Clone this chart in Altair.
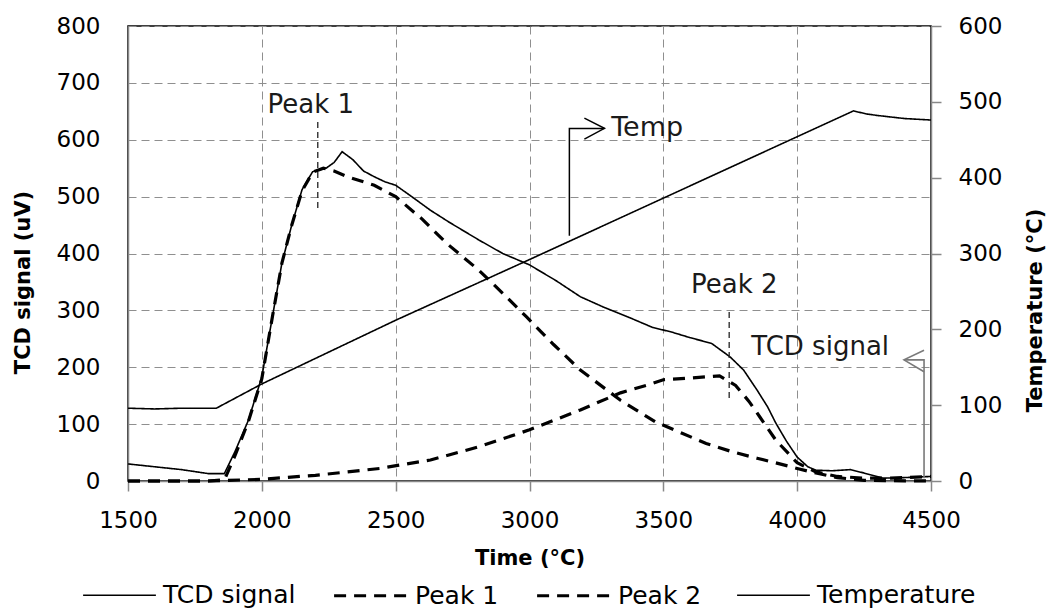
import altair as alt
import pandas as pd

FONT = "DejaVu Sans"

# ---- series data ----
time_tcd = [1500, 1600, 1700, 1800, 1860, 1900, 1950, 2000, 2040, 2075, 2110, 2150, 2190, 2240,
            2270, 2300, 2340, 2380, 2420, 2460, 2500, 2560, 2630, 2700, 2810, 2900, 3000, 3100,
            3190, 3280, 3370, 3460, 3530, 3600, 3680, 3750, 3800, 3850, 3890, 3920, 3960, 4000,
            4040, 4070, 4130, 4200, 4250, 4320, 4400, 4500]
tcd = [30, 25, 20, 13, 13, 52, 107, 183, 290, 383, 447, 512, 544, 550,
       560, 579, 565, 545, 535, 526, 520, 500, 476, 455, 424, 400, 380, 352,
       324, 305, 288, 270, 262, 252, 242, 218, 195, 160, 130, 102, 70, 42,
       25, 19, 18, 20, 14, 5, 6, 8]

time_p1 = [1500, 1800, 1860, 1900, 1950, 2000, 2040, 2075, 2110, 2150, 2190, 2230, 2270, 2320,
           2420, 2500, 2600, 2690, 2810, 2900, 2990, 3090, 3190, 3340, 3470, 3570, 3660, 3760,
           3850, 3920, 4000, 4070, 4150, 4250, 4500]
p1 = [0, 0, 2, 45, 105, 180, 290, 383, 447, 510, 543, 550, 545, 535,
      520, 500, 460, 418, 371, 330, 288, 240, 195, 142, 104, 84, 66, 51,
      40, 32, 22, 14, 6, 1, 0]

time_p2 = [1500, 1800, 2000, 2200, 2440, 2630, 2810, 3000, 3190, 3340, 3450, 3500, 3600, 3710,
           3770, 3820, 3860, 3920, 4000, 4070, 4150, 4250, 4350, 4500]
p2 = [0, 0, 3, 10, 22, 37, 60, 90, 125, 155, 170, 178, 181, 185,
      168, 140, 113, 72, 32, 16, 8, 5, 5, 8]

time_temp = [1500, 1600, 1700, 1830, 2000, 2500, 3000, 3500, 4000, 4210, 4260, 4300, 4400, 4500]
temp = [96, 95, 96, 96, 128, 212, 292, 373, 454, 488, 484, 482, 478, 476]

series_order = ["TCD signal", "Peak 1", "Peak 2", "Temperature"]
x_ticks = [1500, 2000, 2500, 3000, 3500, 4000, 4500]
left_ticks = [0, 100, 200, 300, 400, 500, 600, 700, 800]
right_ticks = [0, 100, 200, 300, 400, 500, 600]

# ---- annotation data (in data units) ----
ann_text = ["Peak 1", "Peak 2", "TCD signal"]
ann_text_t = [2183, 3765, 4086]
ann_text_v = [661, 345, 236]
temp_label_t, temp_label_v = [3305], [620]

# dashed peak markers
marker_t = [2209, 2209, 3746, 3746]
marker_v = [631, 476, 297, 146]
marker_g = ["a", "a", "b", "b"]

# Temp arrow (shaft + open head)
tarrow_t = [3149, 3149, 3280, 3205, 3280, 3205]
tarrow_v = [431, 620, 620, 638, 620, 601]
tarrow_g = ["s", "s", "s", "h", "h", "h"]

# TCD signal arrow (shaft + open head)
carrow_t = [4474, 4474, 4399, 4474, 4399, 4474]
carrow_v = [5, 213, 213, 230, 213, 192]
carrow_g = ["s", "s", "s", "h", "h", "h"]


def frame(ts, vs, name):
    return pd.DataFrame({"t": ts, "v": vs, "series": name})


left_df = pd.concat([frame(time_tcd, tcd, "TCD signal"),
                     frame(time_p1, p1, "Peak 1"),
                     frame(time_p2, p2, "Peak 2")], ignore_index=True)
temp_df = frame(time_temp, temp, "Temperature")

dash_scale = alt.Scale(domain=series_order, range=[[1, 0], [12, 8], [12, 8], [1, 0]])
width_scale = alt.Scale(type="ordinal", domain=series_order, range=[1.6, 3.2, 3.2, 1.6])

legend = alt.Legend(title=None, orient="none", legendX=-46, legendY=531,
                    direction="horizontal", symbolType="stroke", symbolSize=5300,
                    symbolStrokeColor="black", labelFont=FONT, labelFontSize=25,
                    labelColor="black", labelOffset=6, columnPadding=31)

x_scale = alt.Scale(domain=[1500, 4500], nice=False, zero=False)
x_axis = alt.Axis(values=x_ticks, format="d", title="Time (°C)", grid=True, labelFlush=False,
                  tickSize=10, labelPadding=18, titleY=77, titleBaseline="middle")
x_enc = alt.X("t:Q", scale=x_scale, axis=x_axis)

y_scale_left = alt.Scale(domain=[0, 800], nice=False)
y_axis_left = alt.Axis(values=left_ticks, format="d", title="TCD signal (uV)", grid=True,
                       ticks=False, tickSize=0, labelPadding=28, labelFlush=False,
                       titleX=-105, titleY=256, titleBaseline="middle")
y_enc = alt.Y("v:Q", scale=y_scale_left, axis=y_axis_left)

main = alt.Chart(left_df).mark_line(color="black").encode(
    x=x_enc,
    y=y_enc,
    strokeDash=alt.StrokeDash("series:N", scale=dash_scale, legend=legend),
    strokeWidth=alt.StrokeWidth("series:N", scale=width_scale, legend=legend),
    detail="series:N",
)

markers = alt.Chart(pd.DataFrame({"t": marker_t, "v": marker_v, "g": marker_g})).mark_line(
    color="#222222", strokeWidth=1.3, strokeDash=[6, 4]).encode(
    x=x_enc, y=y_enc, detail="g:N")

tarrow = alt.Chart(pd.DataFrame({"t": tarrow_t, "v": tarrow_v, "g": tarrow_g,
                                 "o": list(range(len(tarrow_t)))})).mark_line(
    color="black", strokeWidth=1.5).encode(
    x=x_enc, y=y_enc, detail="g:N", order="o:Q")

carrow = alt.Chart(pd.DataFrame({"t": carrow_t, "v": carrow_v, "g": carrow_g,
                                 "o": list(range(len(carrow_t)))})).mark_line(
    color="#7a7a7a", strokeWidth=1.6).encode(
    x=x_enc, y=y_enc, detail="g:N", order="o:Q")

labels = alt.Chart(pd.DataFrame({"t": ann_text_t, "v": ann_text_v, "txt": ann_text})).mark_text(
    font=FONT, fontSize=26, color="#1a1a1a", align="center", baseline="middle").encode(
    x=x_enc, y=y_enc, text="txt:N")

temp_label = alt.Chart(pd.DataFrame({"t": temp_label_t, "v": temp_label_v, "txt": ["Temp"]})).mark_text(
    font=FONT, fontSize=27, color="#1a1a1a", align="left", baseline="middle").encode(
    x=x_enc, y=y_enc, text="txt:N")

left_layer = alt.layer(main, markers, tarrow, carrow, labels, temp_label)

right = alt.Chart(temp_df).mark_line(color="black").encode(
    x=x_enc,
    y=alt.Y("v:Q", scale=alt.Scale(domain=[0, 600], nice=False),
            axis=alt.Axis(values=right_ticks, format="d", title="Temperature (°C)", orient="right",
                          grid=False, tickSize=10, labelPadding=17, labelFlush=False,
                          titleX=104, titleY=284, titleAngle=270, titleBaseline="middle")),
    strokeDash=alt.StrokeDash("series:N", scale=dash_scale, legend=legend),
    strokeWidth=alt.StrokeWidth("series:N", scale=width_scale, legend=legend),
)

chart = alt.layer(left_layer, right).resolve_scale(y="independent").properties(
    width=803, height=455,
    autosize=alt.AutoSizeParams(type="none"),
    padding={"left": 128, "top": 26, "right": 117, "bottom": 130},
    background="white",
).configure_view(
    stroke="black", strokeWidth=1.5
).configure_axis(
    labelFont=FONT, labelFontSize=23, labelColor="black",
    titleFont=FONT, titleFontSize=21, titleFontWeight="bold", titleColor="black",
    domainColor="#888888", domainWidth=1.5, tickColor="#888888", tickWidth=1.5,
    gridColor="#8f8f8f", gridDash=[8, 5], gridWidth=1,
)

chart.save("out.html", embed_options={"renderer": "svg", "actions": False})
